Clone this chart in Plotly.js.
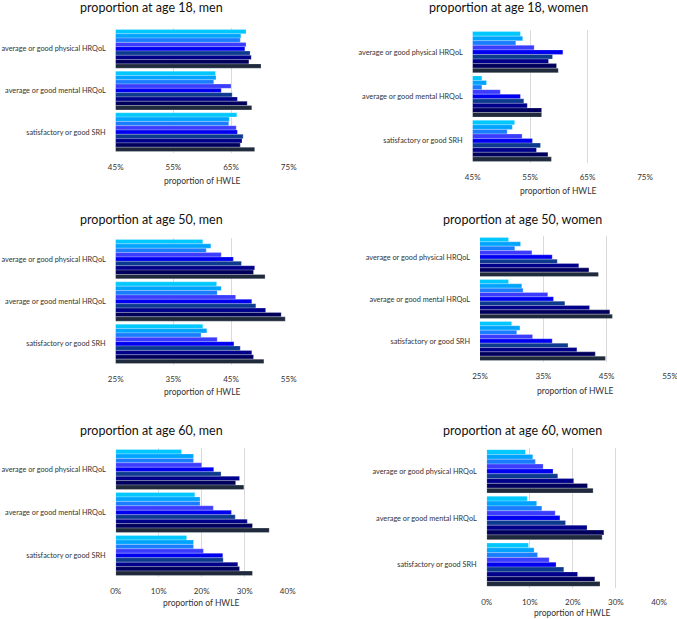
<!DOCTYPE html>
<html>
<head>
<meta charset="utf-8">
<script src="https://cdn.plot.ly/plotly-3.0.1.min.js"></script>
<style>html,body{margin:0;padding:0;background:#fff;}#chart{width:677px;height:619px;}</style>
</head>
<body>
<div id="chart"></div>
<script>
// ---- data (percent of HWLE) ----
const categories = ['average or good physical HRQoL', 'average or good mental HRQoL', 'satisfactory or good SRH'];
const seriesColors = ['#00c8ff', '#00a4ff', '#1a7cff', '#3c3cff', '#0000f0', '#0b3a8e', '#00008a', '#00005c', '#1f2a3c'];

const men18_physical = [67.6, 66.7, 66.6, 67.6, 67.4, 68.3, 68.5, 68.1, 70.2];
const men18_mental   = [62.3, 62.4, 62.0, 65.0, 63.3, 65.2, 66.1, 67.8, 68.6];
const men18_srh      = [66.0, 64.7, 64.6, 65.9, 66.1, 67.1, 66.9, 66.6, 69.1];

const women18_physical = [53.3, 53.7, 52.5, 55.7, 60.7, 58.9, 58.2, 59.6, 59.9];
const women18_mental   = [46.6, 47.4, 46.6, 49.8, 53.3, 53.9, 54.5, 57.0, 57.0];
const women18_srh      = [52.3, 51.9, 51.0, 53.6, 55.4, 56.8, 56.1, 58.1, 58.7];

const men50_physical = [40.1, 41.5, 40.7, 43.3, 45.4, 46.8, 49.1, 48.9, 50.9];
const men50_mental   = [42.5, 43.3, 42.6, 45.8, 48.6, 49.3, 51.0, 53.7, 54.4];
const men50_srh      = [40.1, 40.8, 39.8, 42.6, 45.5, 46.6, 48.6, 48.9, 50.7];

const women50_physical = [29.5, 31.4, 30.5, 33.2, 36.4, 37.2, 40.6, 42.2, 43.7];
const women50_mental   = [29.5, 31.6, 31.8, 35.7, 36.6, 38.4, 42.3, 45.5, 45.9];
const women50_srh      = [30.0, 31.3, 30.8, 33.3, 36.4, 38.9, 40.3, 43.2, 44.8];

const men60_physical = [15.3, 18.1, 18.1, 20.0, 22.8, 24.5, 28.8, 27.9, 29.8];
const men60_mental   = [18.4, 19.6, 19.6, 22.7, 26.9, 27.8, 30.6, 31.8, 35.7];
const men60_srh      = [16.5, 18.1, 18.1, 20.4, 24.9, 25.0, 28.4, 28.8, 31.8];

const women60_physical = [9.0, 10.7, 11.3, 13.1, 15.4, 16.5, 20.2, 23.4, 24.7];
const women60_mental   = [9.4, 11.6, 12.8, 15.9, 17.0, 18.3, 23.3, 27.2, 26.8];
const women60_srh      = [9.7, 11.0, 11.8, 14.5, 16.1, 17.9, 21.1, 25.1, 26.3];

const panelTitles = ['proportion at age 18, men', 'proportion at age 18, women',
                     'proportion at age 50, men', 'proportion at age 50, women',
                     'proportion at age 60, men', 'proportion at age 60, women'];
const ticks18 = [45, 55, 65, 75];
const tickLabels18 = ['45%', '55%', '65%', '75%'];
const ticks50 = [25, 35, 45, 55];
const tickLabels50 = ['25%', '35%', '45%', '55%'];
const ticks60 = [0, 10, 20, 30, 40];
const tickLabels60 = ['0%', '10%', '20%', '30%', '40%'];
const axisTitle = 'proportion of HWLE';

// ---- layout geometry (pixels) ----
const W = 677, H = 619;
const panels = [
  {data: [men18_physical, men18_mental, men18_srh],       ticks: ticks18, labels: tickLabels18, x0: 115.7, x1: 288.7, y0: 28,  y1: 153, tx: 151, ty: 8,   ax: 167},
  {data: [women18_physical, women18_mental, women18_srh], ticks: ticks18, labels: tickLabels18, x0: 472.7, x1: 645,   y0: 30,  y1: 163, tx: 508, ty: 8,   ax: 177},
  {data: [men50_physical, men50_mental, men50_srh],       ticks: ticks50, labels: tickLabels50, x0: 115.7, x1: 288.7, y0: 238, y1: 365, tx: 151, ty: 219, ax: 378},
  {data: [women50_physical, women50_mental, women50_srh], ticks: ticks50, labels: tickLabels50, x0: 480,   x1: 670,   y0: 236, y1: 362, tx: 522, ty: 219, ax: 377},
  {data: [men60_physical, men60_mental, men60_srh],       ticks: ticks60, labels: tickLabels60, x0: 115.7, x1: 287.7, y0: 448, y1: 577, tx: 151, ty: 430, ax: 589},
  {data: [women60_physical, women60_mental, women60_srh], ticks: ticks60, labels: tickLabels60, x0: 486.7, x1: 659,   y0: 448, y1: 588, tx: 522, ty: 430, ax: 599}
];

const FONT = 'Lato, "Open Sans", sans-serif';
const traces = [];
const layout = {
  width: W, height: H,
  margin: {l: 0, r: 0, t: 0, b: 0},
  paper_bgcolor: '#ffffff', plot_bgcolor: '#ffffff',
  showlegend: false,
  barmode: 'group', bargap: 0.07, bargroupgap: 0,
  font: {family: FONT, color: '#333333', size: 8},
  annotations: []
};

panels.forEach((p, k) => {
  const n = k + 1;
  const xa = 'xaxis' + (n === 1 ? '' : n), ya = 'yaxis' + (n === 1 ? '' : n);
  const xr = 'x' + (n === 1 ? '' : n), yr = 'y' + (n === 1 ? '' : n);
  for (let s = 0; s < seriesColors.length; s++) {
    traces.push({
      type: 'bar', orientation: 'h',
      x: p.data.map(arr => arr[s]),
      y: categories,
      xaxis: xr, yaxis: yr,
      marker: {color: seriesColors[s], line: {color: 'rgba(255,255,255,0.6)', width: 0.4}},
      hoverinfo: 'x+y'
    });
  }
  layout[xa] = {
    domain: [p.x0 / W, p.x1 / W],
    anchor: yr,
    range: [p.ticks[0], p.ticks[p.ticks.length - 1]],
    tickmode: 'array', tickvals: p.ticks, ticktext: p.labels,
    ticklabeloverflow: 'allow',
    showgrid: true, gridcolor: '#d9d9d9', gridwidth: 1,
    zeroline: false, showline: false, ticks: '',
    tickfont: {size: 8, family: FONT, color: '#333'},
    ticklabelstandoff: 8, fixedrange: true
  };
  layout[ya] = {
    domain: [1 - p.y1 / H, 1 - p.y0 / H],
    anchor: xr,
    autorange: 'reversed',
    showgrid: false, zeroline: false, showline: false, ticks: '',
    tickfont: {size: 7.3, family: FONT, color: '#333'},
    ticklabelstandoff: 9, fixedrange: true
  };
  layout.annotations.push({
    text: panelTitles[k], xref: 'paper', yref: 'paper',
    x: p.tx / W, y: 1 - p.ty / H, xanchor: 'center', yanchor: 'middle',
    showarrow: false, font: {size: 12.5, family: FONT, color: '#111'}
  });
  layout.annotations.push({
    text: axisTitle, xref: 'paper', yref: 'paper',
    x: ((p.x0 + p.x1) / 2) / W, y: 1 - (p.ax + 14) / H, xanchor: 'center', yanchor: 'middle',
    showarrow: false, font: {size: 8.5, family: FONT, color: '#333'}
  });
});

Plotly.newPlot('chart', traces, layout, {displayModeBar: false});
</script>
</body>
</html>
